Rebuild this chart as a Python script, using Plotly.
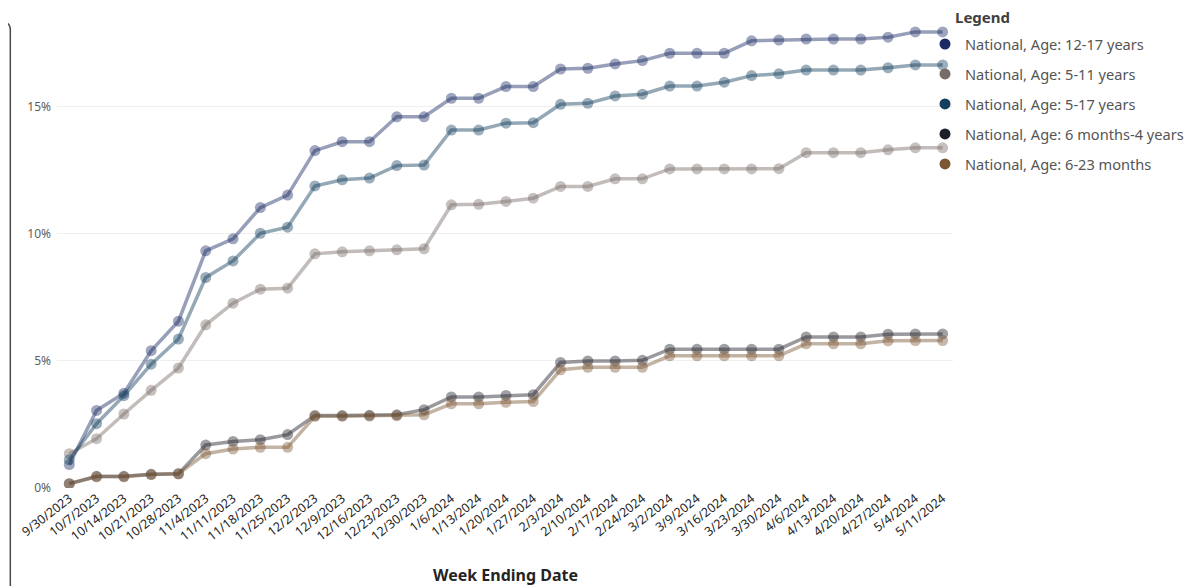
import plotly.graph_objects as go

# ---------------- data ----------------
week_ending = ["9/30/2023", "10/7/2023", "10/14/2023", "10/21/2023", "10/28/2023",
               "11/4/2023", "11/11/2023", "11/18/2023", "11/25/2023", "12/2/2023",
               "12/9/2023", "12/16/2023", "12/23/2023", "12/30/2023", "1/6/2024",
               "1/13/2024", "1/20/2024", "1/27/2024", "2/3/2024", "2/10/2024",
               "2/17/2024", "2/24/2024", "3/2/2024", "3/9/2024", "3/16/2024",
               "3/23/2024", "3/30/2024", "4/6/2024", "4/13/2024", "4/20/2024",
               "4/27/2024", "5/4/2024", "5/11/2024"]

age_12_17 = [0.92, 3.05, 3.73, 5.40, 6.56, 9.33, 9.80, 11.03, 11.52, 13.27, 13.62,
             13.62, 14.60, 14.60, 15.33, 15.33, 15.79, 15.79, 16.48, 16.51, 16.68,
             16.81, 17.10, 17.10, 17.10, 17.59, 17.62, 17.66, 17.66, 17.66, 17.73,
             17.94, 17.94]
age_5_11 = [1.35, 1.94, 2.91, 3.84, 4.72, 6.42, 7.27, 7.82, 7.86, 9.21, 9.29,
            9.33, 9.37, 9.41, 11.14, 11.16, 11.27, 11.40, 11.86, 11.86, 12.16,
            12.16, 12.55, 12.55, 12.55, 12.55, 12.56, 13.19, 13.19, 13.19, 13.30,
            13.38, 13.38]
age_5_17 = [1.11, 2.53, 3.63, 4.87, 5.86, 8.28, 8.93, 10.02, 10.26, 11.88, 12.12,
            12.19, 12.68, 12.70, 14.08, 14.08, 14.35, 14.37, 15.09, 15.13, 15.42,
            15.49, 15.81, 15.81, 15.96, 16.22, 16.29, 16.44, 16.44, 16.44, 16.53,
            16.64, 16.64]
age_6m_4y = [0.17, 0.46, 0.46, 0.54, 0.56, 1.69, 1.83, 1.90, 2.10, 2.85, 2.85,
             2.86, 2.88, 3.08, 3.58, 3.58, 3.64, 3.67, 4.94, 5.00, 5.00, 5.02,
             5.46, 5.46, 5.46, 5.46, 5.46, 5.94, 5.94, 5.94, 6.05, 6.06, 6.06]
age_6_23m = [0.17, 0.44, 0.44, 0.53, 0.56, 1.35, 1.53, 1.60, 1.60, 2.82, 2.82,
             2.83, 2.84, 2.88, 3.31, 3.31, 3.37, 3.40, 4.65, 4.75, 4.75, 4.75,
             5.20, 5.20, 5.20, 5.20, 5.20, 5.67, 5.67, 5.67, 5.79, 5.80, 5.80]

series_names = ["National, Age: 12-17 years", "National, Age: 5-11 years",
                "National, Age: 5-17 years", "National, Age: 6 months-4 years",
                "National, Age: 6-23 months"]
series_values = [age_12_17, age_5_11, age_5_17, age_6m_4y, age_6_23m]
series_colors = ["#1b2a64", "#776c66", "#123f5e", "#1e2029", "#7b5632"]

y_ticks = [0, 5, 10, 15]
y_ticktext = ["0%", "5%", "10%", "15%"]

# ---------------- layout geometry ----------------
# The page body has an 8px default margin, so the figure is drawn 8px smaller
# and all target page positions are shifted by that offset.
OFF = 8
W, H = 1196 - OFF, 586 - OFF
# plot-area edges in figure pixels
PL, PR, PT, PB = 56.7 - OFF, 953.0 - OFF, 12.0 - OFF, 488.3 - OFF
Y_MAX = (PB - PT) / 25.44   # 25.44 px per percentage point


def px2x(page_px):
    return (page_px - OFF - PL) / (PR - PL)


def py2y(page_py):
    return (PB - (page_py - OFF)) / (PB - PT)


def cx(page_px):
    return (page_px - OFF) / W


def cy(page_py):
    return 1 - (page_py - OFF) / H


def rgba(hex_color, a):
    h = hex_color.lstrip("#")
    r, g, b = int(h[0:2], 16), int(h[2:4], 16), int(h[4:6], 16)
    return f"rgba({r},{g},{b},{a})"


FONT = "Segoe UI, Noto Sans, Open Sans, sans-serif"

fig = go.Figure()

for i, (name, vals, col) in enumerate(zip(series_names, series_values, series_colors)):
    fig.add_trace(go.Scatter(
        x=week_ending, y=vals, name=name, mode="lines+markers",
        line=dict(color=rgba(col, 0.45), width=3.5),
        marker=dict(color=rgba(col, 0.42), size=11, line=dict(width=0)),
        showlegend=False, legendgroup=f"g{i}",
        hovertemplate="%{x}<br>%{y:.1f}%<extra>" + name + "</extra>",
    ))

# legend entries (solid dots only)
for i, (name, col) in enumerate(zip(series_names, series_colors)):
    fig.add_trace(go.Scatter(
        x=[None], y=[None], name=name, mode="markers",
        marker=dict(color=col, size=11),
        showlegend=True, legendgroup=f"g{i}",
    ))

# left neighbouring card border
xb = px2x(10)
fig.add_shape(
    type="path", xref="paper", yref="paper",
    path=(f"M {px2x(-5)},{py2y(22)} L {px2x(2)},{py2y(22)} "
          f"Q {xb},{py2y(22)} {xb},{py2y(30)} L {xb},{py2y(600)}"),
    line=dict(color="#4a4a4a", width=1.5),
)

fig.add_annotation(
    text="<b>Week Ending Date</b>", xref="paper", yref="paper",
    x=px2x(505), y=py2y(575), xanchor="center", yanchor="middle", showarrow=False,
    font=dict(family=FONT, size=16, color="#252423"),
)
fig.add_annotation(
    text="<b>Legend</b>", xref="paper", yref="paper",
    x=px2x(953), y=py2y(17), xanchor="left", yanchor="middle", showarrow=False,
    font=dict(family=FONT, size=15, color="#404040"),
)

fig.update_layout(
    width=W, height=H,
    margin=dict(l=PL, r=W - PR, t=PT, b=H - PB, pad=0, autoexpand=False),
    paper_bgcolor="white", plot_bgcolor="white",
    font=dict(family=FONT, color="#252423"),
    showlegend=True,
    legend=dict(
        xref="container", yref="container",
        x=cx(925), xanchor="left", y=cy(28), yanchor="top",
        bgcolor="rgba(0,0,0,0)", borderwidth=0,
        font=dict(family=FONT, size=14.6, color="#555555"),
        tracegroupgap=8.0, itemclick=False, itemdoubleclick=False,
    ),
    xaxis=dict(
        type="category", range=[-0.45, 32.38],
        showgrid=False, zeroline=False, showline=False, ticks="",
        tickangle=-38, tickfont=dict(family=FONT, size=12.5, color="#252423"),
        automargin=False,
    ),
    yaxis=dict(
        range=[0, Y_MAX], tickvals=y_ticks, ticktext=y_ticktext,
        showgrid=True, gridcolor="#efefef", gridwidth=1, zeroline=False,
        showline=False, ticks="", ticklabelstandoff=5,
        tickfont=dict(family=FONT, size=12, color="#605e5c"),
        automargin=False,
    ),
)

fig.write_html("out.html")
